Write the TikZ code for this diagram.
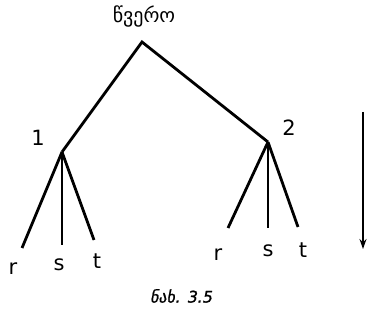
\documentclass[tikz,border=0pt]{standalone}
\usepackage{fontspec}
\setmainfont{DejaVu Sans}
\newfontfamily\geofont{DejaVu Sans}
\newfontfamily\geoslant[FakeSlant=0.2,FakeBold=1.2]{DejaVu Sans}
\usetikzlibrary{arrows.meta}

\begin{document}
\begin{tikzpicture}[x=1pt,y=-1pt,line width=2.8pt,>={Stealth[length=10pt,width=7pt]},
  lab/.style={font=\fontsize{21}{21}\selectfont,inner sep=0pt}]
 \useasboundingbox (0,0) rectangle (368,321);
 % ---- root and inner vertices ----
 \coordinate (root) at (142,42);
 \node[lab,anchor=south,font=\fontsize{20}{20}\selectfont] (top) at (144,29) {\geofont წვერო};
 \coordinate (n1) at (62,152);
 \coordinate (n2) at (268,142);
 \draw (n1) -- (root) -- (n2);
 \node[lab] (l1) at (38,138) {1};
 \node[lab] (l2) at (289,128) {2};
 % ---- leaves r, s, t ----
 \foreach \p/\k/\ex/\ey in {%
   n1/a/22/248, n1/b/62/245, n1/c/94/240,
   n2/a/228/228, n2/b/268/228, n2/c/298/227} {
   \coordinate (\p\k) at (\ex,\ey);
   \draw (\p) -- (\p\k);}
 \foreach \p/\k/\lx/\ly/\t in {%
   n1/a/13/269/r, n1/b/59/265/s, n1/c/97/261/t,
   n2/a/218/255/r, n2/b/268/251/s, n2/c/303/250/t}
   \node[lab] (lab\p\k) at (\lx,\ly) {\t};
 % ---- direction arrow ----
 \coordinate (a1) at (363,112);
 \coordinate (a2) at (363,249);
 \draw[->,line width=1.8pt] (a1) -- (a2);
 % ---- caption ----
 \node[lab,font=\fontsize{16}{16}\selectfont] (cap) at (181,296) {\geoslant ნახ. 3.5};
\end{tikzpicture}
\end{document}
